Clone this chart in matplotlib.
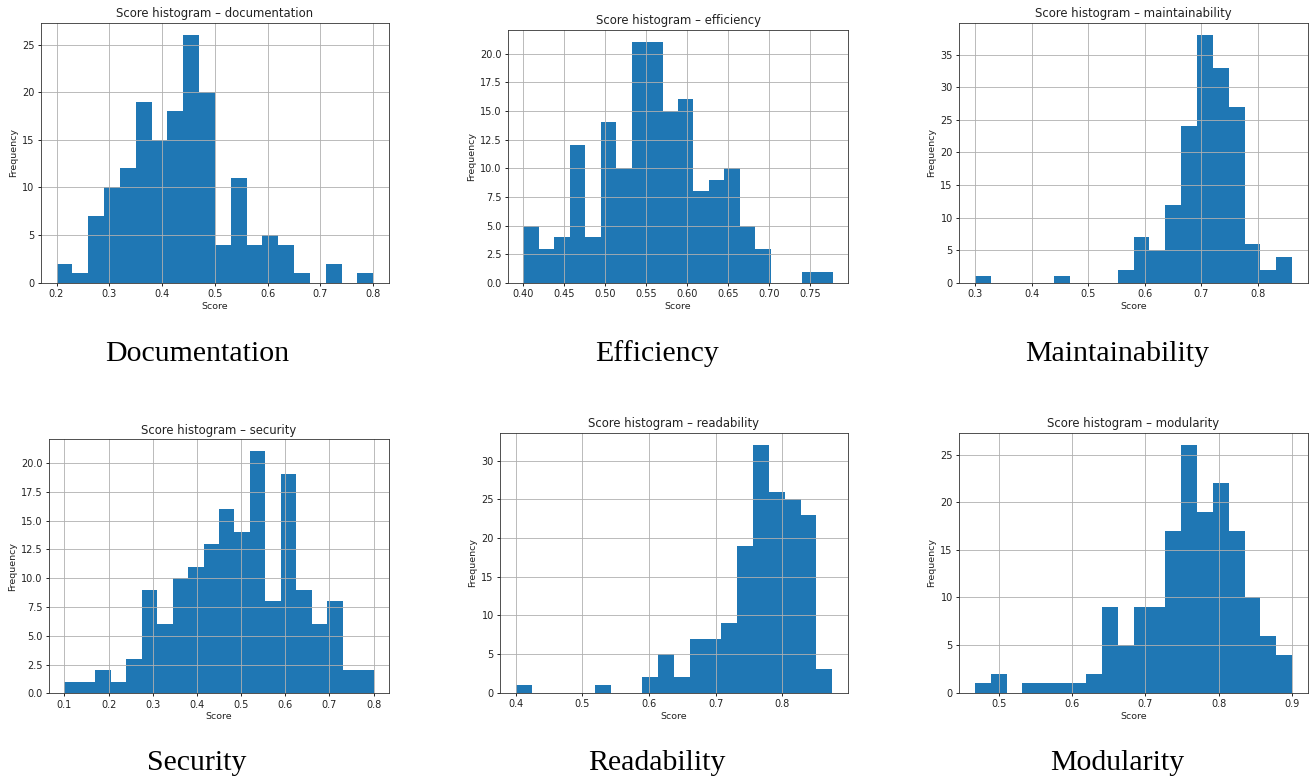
import numpy as np
import matplotlib
matplotlib.use('Agg')
import matplotlib.pyplot as plt

# Counts per bin (20 equal bins between the min and max score of each metric)
documentation_counts = [2, 1, 7, 10, 12, 19, 15, 18, 26, 20, 4, 11, 4, 5, 4, 1, 0, 2, 0, 1]
efficiency_counts = [5, 3, 4, 12, 4, 14, 10, 21, 21, 15, 16, 8, 9, 10, 5, 3, 0, 0, 1, 1]
maintainability_counts = [1, 0, 0, 0, 0, 1, 0, 0, 0, 2, 7, 5, 12, 24, 38, 33, 27, 6, 2, 4]
security_counts = [1, 1, 2, 1, 3, 9, 6, 10, 11, 13, 16, 14, 21, 8, 19, 9, 6, 8, 2, 2]
readability_counts = [1, 0, 0, 0, 0, 1, 0, 0, 2, 5, 2, 7, 7, 9, 19, 32, 26, 25, 23, 3]
modularity_counts = [1, 2, 0, 1, 1, 1, 1, 2, 9, 5, 9, 9, 17, 26, 19, 22, 17, 10, 6, 4]

# Score range (min, max) of each metric
documentation_range = (0.20, 0.80)
efficiency_range = (0.40, 0.7775)
maintainability_range = (0.30, 0.86)
security_range = (0.10, 0.80)
readability_range = (0.40, 0.875)
modularity_range = (0.4675, 0.90)

metrics = ["documentation", "efficiency", "maintainability",
           "security", "readability", "modularity"]
captions = ["Documentation", "Efficiency", "Maintainability",
            "Security", "Readability", "Modularity"]
counts = [documentation_counts, efficiency_counts, maintainability_counts,
          security_counts, readability_counts, modularity_counts]
ranges = [documentation_range, efficiency_range, maintainability_range,
          security_range, readability_range, modularity_range]

W, H = 1312, 780
# axes boxes in pixels: left, top, right, bottom
boxes = [
    (40.7, 22.7, 389, 282.7),
    (508, 30, 848, 283),
    (959, 22.7, 1308, 282.7),
    (49, 439.3, 389, 693.3),
    (500, 432.7, 848, 692.7),
    (959, 432.7, 1308, 692.7),
]
caption_pos = [(197, 354), (657, 354), (1117, 354),
               (197, 763), (657, 763), (1117, 763)]

plt.rcParams['axes.linewidth'] = 0.6
plt.rcParams['xtick.major.width'] = 0.6
plt.rcParams['ytick.major.width'] = 0.6
plt.rcParams['xtick.major.size'] = 2.5
plt.rcParams['ytick.major.size'] = 2.5

fig = plt.figure(figsize=(W / 100, H / 100), dpi=100)

for i in range(6):
    l, t, r, b = boxes[i]
    ax = fig.add_axes([l / W, (H - b) / H, (r - l) / W, (b - t) / H])
    lo, hi = ranges[i]
    edges = np.linspace(lo, hi, len(counts[i]) + 1)
    ax.hist(edges[:-1], bins=edges, weights=counts[i], color='#1f77b4')
    ax.grid(True, color='#b0b0b0', linewidth=0.6)
    ax.set_title(f"Score histogram \u2013 {metrics[i]}", fontsize=8.4, pad=4,
                 color='#222222')
    ax.set_xlabel("Score", fontsize=6.8, labelpad=2, color='#222222')
    ax.set_ylabel("Frequency", fontsize=6.8, labelpad=3, color='#222222')
    ax.tick_params(labelsize=7, pad=2, labelcolor='#222222')
    for sp in ax.spines.values():
        sp.set_color('#333333')

    cx, cy = caption_pos[i]
    fig.text(cx / W, (H - cy) / H, captions[i], ha='center', va='center',
             fontsize=21.5, family='Liberation Serif')

plt.savefig("out.png", dpi=100)
plt.close()
